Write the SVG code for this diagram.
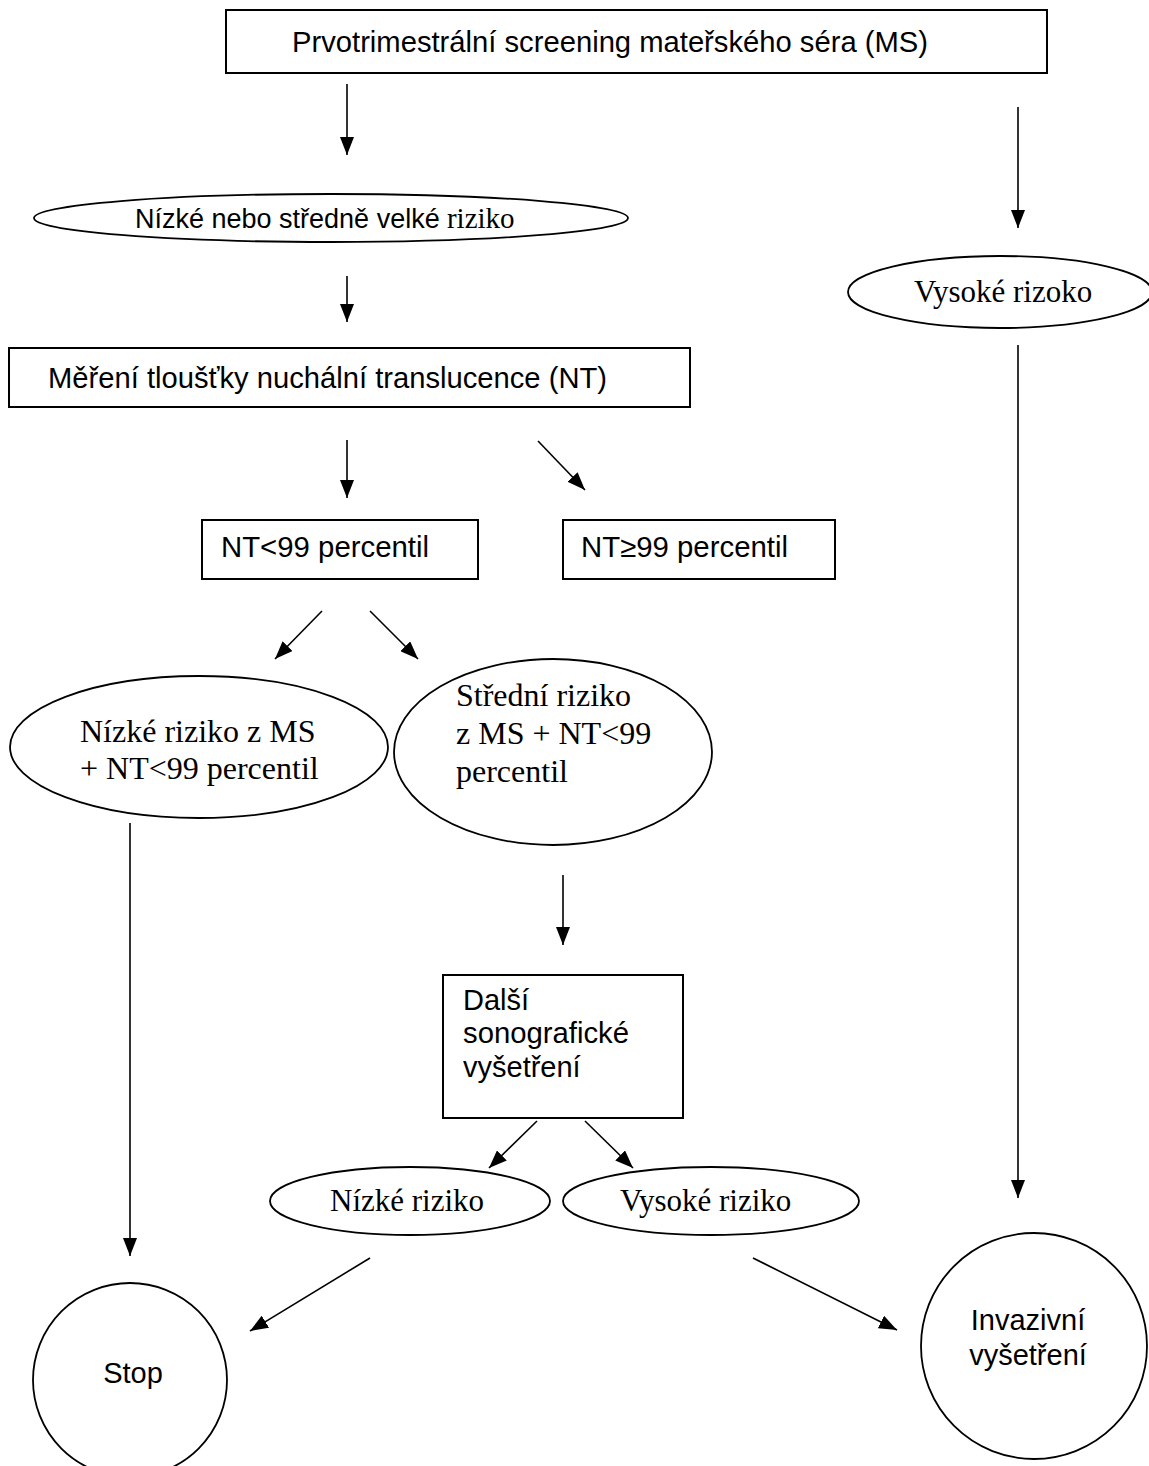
<svg xmlns="http://www.w3.org/2000/svg" width="1149" height="1466" viewBox="0 0 1149 1466">
<style>
.box{fill:#fff;stroke:#000;stroke-width:2}
.ell{fill:#fff;stroke:#000;stroke-width:1.8}
.sans{font-family:"Liberation Sans",Arial,sans-serif;font-size:29px;fill:#000}
.serif{font-family:"Liberation Serif","Times New Roman",serif;font-size:31px;fill:#000}
.conn line{stroke:#000;stroke-width:1.6;marker-end:url(#ah)}
</style>
<defs>
<marker id="ah" markerUnits="userSpaceOnUse" markerWidth="18" markerHeight="14" refX="18" refY="7" orient="auto">
<path d="M0,0 L18,7 L0,14 z" fill="#000"/>
</marker>
</defs>
<rect width="1149" height="1466" fill="#fff"/>
<g id="connectors" class="conn">
<line x1="347" y1="84" x2="347" y2="155"/>
<line x1="1018" y1="107" x2="1018" y2="228"/>
<line x1="347" y1="276" x2="347" y2="322"/>
<line x1="347" y1="440" x2="347" y2="498"/>
<line x1="538" y1="441" x2="585" y2="490"/>
<line x1="1018" y1="345" x2="1018" y2="1198"/>
<line x1="322" y1="611" x2="275" y2="659"/>
<line x1="370" y1="611" x2="418" y2="659"/>
<line x1="130" y1="823" x2="130" y2="1256"/>
<line x1="563" y1="875" x2="563" y2="945"/>
<line x1="537" y1="1121" x2="489" y2="1168"/>
<line x1="585" y1="1121" x2="633" y2="1168"/>
<line x1="370" y1="1258" x2="250" y2="1331"/>
<line x1="753" y1="1258" x2="897" y2="1330"/>
</g>
<g id="n-screening">
<rect class="box" x="226" y="10" width="821" height="63"/>
<text class="sans" x="292" y="52" textLength="636" lengthAdjust="spacingAndGlyphs">Prvotrimestrální screening mateřského séra (MS)</text>
</g>
<g id="n-nizke-stredni">
<ellipse class="ell" cx="331" cy="218" rx="297" ry="24"/>
<text x="135" y="228"><tspan class="sans" style="font-size:27px">Nízké nebo středně velké</tspan><tspan class="serif" style="font-size:29px"> riziko</tspan></text>
</g>
<g id="n-vysoke-rizoko">
<ellipse class="ell" cx="1000" cy="292" rx="152" ry="36"/>
<text class="serif" x="914" y="302">Vysoké rizoko</text>
</g>
<g id="n-mereni">
<rect class="box" x="9" y="348" width="681" height="59"/>
<text class="sans" x="48" y="388" textLength="559" lengthAdjust="spacingAndGlyphs">Měření tloušťky nuchální translucence (NT)</text>
</g>
<g id="n-nt-lt">
<rect class="box" x="202" y="520" width="276" height="59"/>
<text class="sans" x="221" y="557" textLength="208" lengthAdjust="spacingAndGlyphs">NT&lt;99 percentil</text>
</g>
<g id="n-nt-ge">
<rect class="box" x="563" y="520" width="272" height="59"/>
<text class="sans" x="581" y="557" textLength="207" lengthAdjust="spacingAndGlyphs">NT≥99 percentil</text>
</g>
<g id="n-nizke-ms">
<ellipse class="ell" cx="199" cy="747" rx="189" ry="71"/>
<text class="serif" x="80" y="742" style="font-size:32px">Nízké riziko z MS</text>
<text class="serif" x="80" y="779" style="font-size:32px">+ NT&lt;99 percentil</text>
</g>
<g id="n-stredni-ms">
<ellipse class="ell" cx="553" cy="752" rx="159" ry="93"/>
<text class="serif" x="456" y="706" style="font-size:32px">Střední riziko</text>
<text class="serif" x="456" y="744" style="font-size:32px">z MS + NT&lt;99</text>
<text class="serif" x="456" y="782" style="font-size:32px">percentil</text>
</g>
<g id="n-dalsi">
<rect class="box" x="443" y="975" width="240" height="143"/>
<text class="sans" x="463" y="1010">Další</text>
<text class="sans" x="463" y="1043" textLength="166" lengthAdjust="spacingAndGlyphs">sonografické</text>
<text class="sans" x="463" y="1077">vyšetření</text>
</g>
<g id="n-nizke-riziko">
<ellipse class="ell" cx="410" cy="1201" rx="140" ry="34"/>
<text class="serif" x="330" y="1211">Nízké riziko</text>
</g>
<g id="n-vysoke-riziko">
<ellipse class="ell" cx="711" cy="1201" rx="148" ry="34"/>
<text class="serif" x="620" y="1211">Vysoké riziko</text>
</g>
<g id="n-stop">
<circle class="ell" cx="130" cy="1380" r="97"/>
<text class="sans" x="133" y="1383" text-anchor="middle">Stop</text>
</g>
<g id="n-invazivni">
<circle class="ell" cx="1034" cy="1346" r="113"/>
<text class="sans" x="1028" y="1330" text-anchor="middle">Invazivní</text>
<text class="sans" x="1028" y="1365" text-anchor="middle">vyšetření</text>
</g>
</svg>
